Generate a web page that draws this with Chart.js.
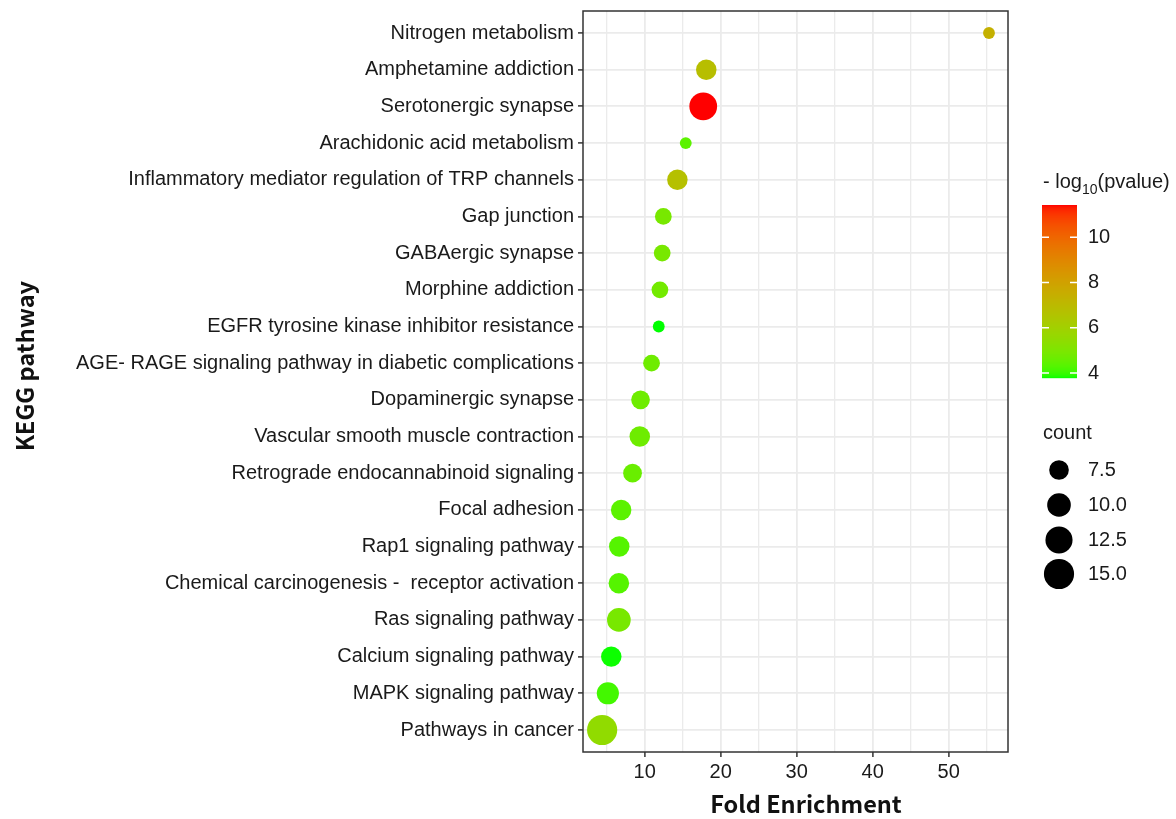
<!DOCTYPE html>
<html>
<head>
<meta charset="utf-8">
<title>KEGG pathway enrichment</title>
<script src="https://cdn.jsdelivr.net/npm/chart.js@4.4.1/dist/chart.umd.min.js"></script>
<style>
  html, body { margin: 0; padding: 0; background: #ffffff; }
</style>
</head>
<body>
<canvas id="keggChart" width="1176" height="819"></canvas>
<script>
// data (top row first)
const pathways = [
  "Nitrogen metabolism",
  "Amphetamine addiction",
  "Serotonergic synapse",
  "Arachidonic acid metabolism",
  "Inflammatory mediator regulation of TRP channels",
  "Gap junction",
  "GABAergic synapse",
  "Morphine addiction",
  "EGFR tyrosine kinase inhibitor resistance",
  "AGE- RAGE signaling pathway in diabetic complications",
  "Dopaminergic synapse",
  "Vascular smooth muscle contraction",
  "Retrograde endocannabinoid signaling",
  "Focal adhesion",
  "Rap1 signaling pathway",
  "Chemical carcinogenesis -  receptor activation",
  "Ras signaling pathway",
  "Calcium signaling pathway",
  "MAPK signaling pathway",
  "Pathways in cancer",
]
const foldEnrichment = [55.3, 18.1, 17.7, 15.4, 14.3, 12.45, 12.3, 12.0, 11.85, 10.9, 9.45, 9.35, 8.4, 6.9, 6.65, 6.6, 6.6, 5.6, 5.15, 4.4]
const counts = [4, 8, 13, 4, 8, 6, 6, 6, 4, 6, 7, 8, 7, 8, 8, 8, 10, 8, 9, 15]
const negLog10P = [7.4, 6.8, 11.42, 4.4, 6.7, 4.9, 4.9, 4.8, 3.78, 4.7, 4.7, 4.7, 4.6, 4.4, 4.3, 4.3, 4.9, 3.8, 4.1, 5.5]

const xTicks = [5, 10, 15, 20, 25, 30, 35, 40, 45, 50, 55]
const xLabelTicks = [10, 20, 30, 40, 50]
const colorBreaks = [4, 6, 8, 10]
const sizeBreaks = [7.5, 10, 12.5, 15]

const TICK_FONT = "\"Liberation Sans\", Arial, sans-serif"
const TITLE_FONT = "\"Noto Sans CJK KR\", \"Noto Sans\", sans-serif"

// --- colour scale: green -> red, interpolated in Lab like ggplot ---
const toLinear = (c) => {
  c = c / 255
  return c <= 0.04045 ? c / 12.92 : Math.pow((c + 0.055) / 1.055, 2.4)
}
const fromLinear = (c) => {
  const v = c <= 0.0031308 ? 12.92 * c : 1.055 * Math.pow(c, 1 / 2.4) - 0.055
  return Math.round(Math.min(1, Math.max(0, v)) * 255)
}
const rgbToLab = ([r, g, b]) => {
  const R = toLinear(r), G = toLinear(g), B = toLinear(b)
  const X = (0.4124 * R + 0.3576 * G + 0.1805 * B) / 0.95047
  const Y = 0.2126 * R + 0.7152 * G + 0.0722 * B
  const Z = (0.0193 * R + 0.1192 * G + 0.9505 * B) / 1.08883
  const f = (t) => (t > 0.008856 ? Math.cbrt(t) : 7.787 * t + 16 / 116)
  const fx = f(X), fy = f(Y), fz = f(Z)
  return [116 * fy - 16, 500 * (fx - fy), 200 * (fy - fz)]
}
const labToRgb = ([L, a, b]) => {
  const fy = (L + 16) / 116
  const fx = fy + a / 500
  const fz = fy - b / 200
  const inv = (t) => (t > 0.206893 ? t * t * t : (t - 16 / 116) / 7.787)
  const X = inv(fx) * 0.95047, Y = inv(fy), Z = inv(fz) * 1.08883
  const R = 3.2406 * X - 1.5372 * Y - 0.4986 * Z
  const G = -0.9689 * X + 1.8758 * Y + 0.0415 * Z
  const B = 0.0557 * X - 0.204 * Y + 1.057 * Z
  return [fromLinear(R), fromLinear(G), fromLinear(B)]
}
const lowLab = rgbToLab([0, 255, 0])
const highLab = rgbToLab([255, 0, 0])
const pMin = Math.min(...negLog10P)
const pMax = Math.max(...negLog10P)

const colorFor = (v) => {
  const t = Math.min(1, Math.max(0, (v - pMin) / (pMax - pMin)))
  const lab = lowLab.map((c, i) => c + (highLab[i] - c) * t)
  const [r, g, b] = labToRgb(lab)
  return `rgb(${r},${g},${b})`
}

// --- size scale: area grows with count ---
const radiusFor = (c) => Math.sqrt(17.5 * (c - 2))

const points = pathways.map((p, i) => ({ x: foldEnrichment[i], y: i, r: radiusFor(counts[i]) }))

// draws frame, axis titles and the two legends
const extrasPlugin = {
  id: "extras",
  afterDraw(chart) {
    const { ctx, chartArea } = chart
    ctx.save()

    // panel border
    ctx.strokeStyle = "#333333"
    ctx.lineWidth = 1.5
    ctx.strokeRect(chartArea.left, chartArea.top, chartArea.right - chartArea.left, chartArea.bottom - chartArea.top)

    // axis titles
    ctx.fillStyle = "#111111"
    ctx.font = "bold 23.5px " + TITLE_FONT
    ctx.textAlign = "center"
    ctx.textBaseline = "middle"
    ctx.fillText("Fold Enrichment", 806, 804)
    ctx.save()
    ctx.translate(25, 366)
    ctx.rotate(-Math.PI / 2)
    ctx.fillText("KEGG pathway", 0, 0)
    ctx.restore()

    // colour legend title: - log10(pvalue)
    ctx.textAlign = "left"
    ctx.textBaseline = "alphabetic"
    ctx.fillStyle = "#1a1a1a"
    ctx.font = "20px " + TICK_FONT
    let x = 1043
    ctx.fillText("- log", x, 188)
    x += ctx.measureText("- log").width
    ctx.font = "14px " + TICK_FONT
    ctx.fillText("10", x, 194)
    x += ctx.measureText("10").width
    ctx.font = "20px " + TICK_FONT
    ctx.fillText("(pvalue)", x, 188)

    // colour bar
    const barL = 1042, barR = 1077, barT = 205, barB = 378
    const steps = barB - barT
    for (let k = 0; k < steps; k++) {
      const v = pMax - (k + 0.5) / steps * (pMax - pMin)
      ctx.fillStyle = colorFor(v)
      ctx.fillRect(barL, barT + k, barR - barL, 1.2)
    }
    ctx.textBaseline = "middle"
    colorBreaks.forEach((v) => {
      const y = barB - (v - pMin) / (pMax - pMin) * (barB - barT)
      ctx.strokeStyle = "#ffffff"
      ctx.lineWidth = 1.5
      ctx.beginPath()
      ctx.moveTo(barL, y)
      ctx.lineTo(barL + 7, y)
      ctx.moveTo(barR - 7, y)
      ctx.lineTo(barR, y)
      ctx.stroke()
      ctx.fillStyle = "#1a1a1a"
      ctx.fillText(String(v), 1088, y)
    })

    // size legend
    ctx.fillText("count", 1043, 433)
    const rowsY = [470, 505, 540, 574]
    sizeBreaks.forEach((c, i) => {
      ctx.fillStyle = "#000000"
      ctx.beginPath()
      ctx.arc(1059, rowsY[i], radiusFor(c), 0, Math.PI * 2)
      ctx.fill()
      ctx.fillStyle = "#1a1a1a"
      ctx.fillText(c.toFixed(1), 1088, rowsY[i])
    })

    ctx.restore()
  },
}

const ctx = document.getElementById("keggChart").getContext("2d")
new Chart(ctx, {
  type: "bubble",
  data: {
    datasets: [
      {
        data: points,
        backgroundColor: negLog10P.map(colorFor),
        borderWidth: 0,
        hoverBorderWidth: 0,
      },
    ],
  },
  options: {
    responsive: false,
    animation: false,
    events: [],
    layout: { autoPadding: false, padding: { left: 0, top: 11, right: 168, bottom: 0 } },
    plugins: { legend: { display: false }, tooltip: { enabled: false } },
    scales: {
      x: {
        type: "linear",
        min: 1.88,
        max: 57.8,
        afterBuildTicks: (scale) => {
          scale.ticks = xTicks.map((v) => ({ value: v }))
        },
        afterFit: (scale) => {
          scale.height = 67
          scale.paddingLeft = 0
          scale.paddingRight = 0
        },
        border: { display: false },
        grid: {
          color: "#ebebeb",
          lineWidth: (c) => (xLabelTicks.includes(c.tick.value) ? 1.8 : 1.3),
          tickColor: (c) => (xLabelTicks.includes(c.tick.value) ? "#333333" : "rgba(0,0,0,0)"),
          tickLength: 5,
          tickWidth: 1.5,
        },
        ticks: {
          autoSkip: false,
          maxRotation: 0,
          padding: 3,
          color: "#1a1a1a",
          font: { family: TICK_FONT, size: 20 },
          callback: (v) => (xLabelTicks.includes(v) ? String(v) : ""),
        },
      },
      y: {
        type: "linear",
        reverse: true,
        min: -0.6,
        max: pathways.length - 0.4,
        afterBuildTicks: (scale) => {
          scale.ticks = pathways.map((p, i) => ({ value: i }))
        },
        afterFit: (scale) => {
          scale.width = 583
          scale.paddingTop = 0
          scale.paddingBottom = 0
        },
        border: { display: false },
        grid: {
          color: "#ebebeb",
          lineWidth: 1.8,
          tickColor: "#333333",
          tickLength: 5,
          tickWidth: 1.5,
        },
        ticks: {
          autoSkip: false,
          padding: 4,
          color: "#1a1a1a",
          font: { family: TICK_FONT, size: 20 },
          callback: (v) => pathways[v],
        },
      },
    },
  },
  plugins: [extrasPlugin],
})
</script>
</body>
</html>
